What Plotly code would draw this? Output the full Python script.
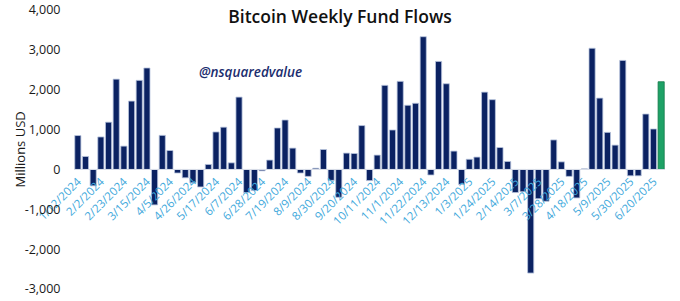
import pandas as pd
import plotly.graph_objects as go

weeks = [d.strftime("%-m/%-d/%Y") for d in pd.date_range("2024-01-12", "2025-06-27", freq="7D")]

flows = [
    850, 325, -410, 815, 1185, 2265, 585, 1715, 2235, 2545,
    -890, 855, 475, -90, -210, -335, -440, 125, 940, 1060,
    165, 1815, -580, -530, -35, 235, 1040, 1240, 535, -90,
    -175, 30, 500, -275, -700, 410, 400, 1100, -280, 360,
    2110, 990, 2210, 1610, 1660, 3330, -140, 2710, 2150, 460,
    -375, 255, 310, 1940, 1750, 550, 200, -580, -560, -2600,
    -735, -800, 740, 190, -175, -715, 15, 3040, 1790, 930,
    610, 2735, -160, -160, 1390, 1015, 2200,
]

tick_labels = weeks[::3]

navy = "#0b2262"
green = "#1ea266"
colors = [navy] * (len(flows) - 1) + [green]
line_colors = ["#b9c5de"] * (len(flows) - 1) + ["#14794a"]

fig = go.Figure()
fig.add_trace(go.Bar(
    x=weeks, y=flows,
    marker=dict(color=colors, line=dict(color=line_colors, width=0.8)),
    showlegend=False,
))

ytick_vals = [-3000, -2000, -1000, 0, 1000, 2000, 3000, 4000]
ytick_text = [f"{v:,}" for v in ytick_vals]

fig.update_layout(
    width=680, height=301,
    margin=dict(l=74, r=15, t=10, b=12, autoexpand=False),
    paper_bgcolor="white", plot_bgcolor="white",
    font=dict(family="Open Sans", color="#1a1a1a"),
    bargap=0.2,
    title=dict(text="Bitcoin Weekly Fund Flows", x=0.5, xref="container", xanchor="center",
               y=1 - 17 / 301, yref="container", yanchor="middle",
               font=dict(size=17.5, color="#111111", weight=600), automargin=False),
    xaxis=dict(type="category", range=[-0.5, len(weeks) - 0.5],
               anchor="free", position=3 / 7, automargin=False,
               tickmode="array", tickvals=tick_labels, ticktext=tick_labels,
               tickangle=-45, ticks="", showgrid=False, zeroline=False,
               showline=True, linecolor="#d6dbe6", linewidth=1,
               tickfont=dict(size=11.5, color="#3fa9dc")),
    yaxis=dict(range=[-3000, 4000], tickmode="array", tickvals=ytick_vals, ticktext=ytick_text,
               showgrid=False, zeroline=False, showline=False, automargin=False,
               ticks="outside", ticklen=10, tickcolor="rgba(0,0,0,0)",
               tickfont=dict(size=12.5, color="#1a1a1a")),
    annotations=[
        dict(text="@nsquaredvalue", xref="paper", yref="y", x=0.298, y=2450,
             showarrow=False, xanchor="center", yanchor="middle",
             font=dict(size=13.5, color="#1b2d6e", style="italic", weight=600)),
        dict(text="Millions USD", xref="paper", yref="paper", x=-(74 - 19) / 591, y=0.5,
             textangle=-90, showarrow=False, xanchor="center", yanchor="middle",
             font=dict(size=13, color="#1a1a1a")),
    ],
)

fig.write_html("out.html")
